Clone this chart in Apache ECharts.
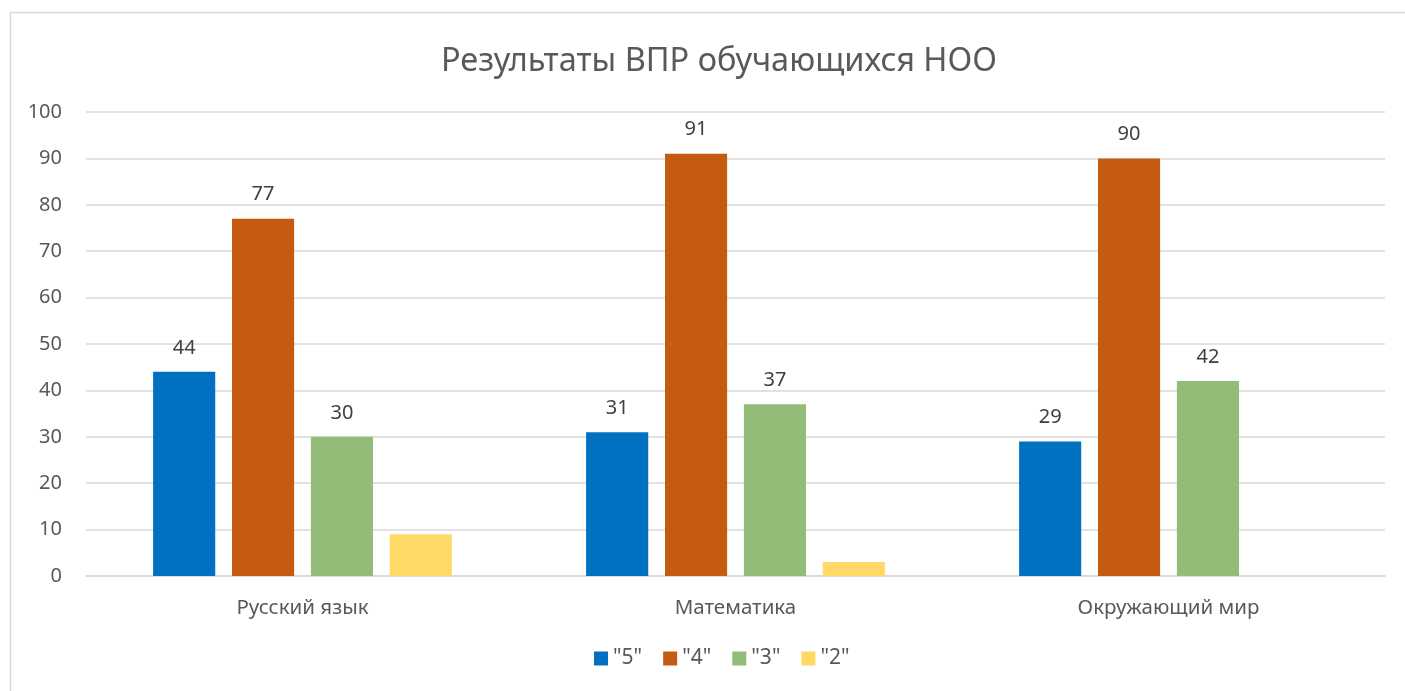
<!DOCTYPE html>
<html>
  <head>
    <meta charset="utf-8" />
    <title>ECharts</title>
    <script src="https://cdn.jsdelivr.net/npm/echarts@6.0.0/dist/echarts.min.js"></script>
  </head>
  <body style="margin:0">
    <div id="main" style="width: 1405px;height:691px;"></div>
    <script type="text/javascript">
// данные
const subjects = ['Русский язык', 'Математика', 'Окружающий мир'];
const grade5 = [44, 31, 29];
const grade4 = [77, 91, 90];
const grade3 = [30, 37, 42];
const grade2 = [9, 3, 0];
const seriesNames = ['"5"', '"4"', '"3"', '"2"'];
const colors = ['#0070C0', '#C55A11', '#93BC78', '#FFD966'];

var chartDom = document.getElementById('main');
var myChart = echarts.init(chartDom);
var option;

const font = 'Noto Sans';
const valueLabel = {
  show: true,
  position: 'top',
  distance: 14,
  color: '#404040',
  fontSize: 20,
  fontFamily: font
};

option = {
  color: colors,
  textStyle: { fontFamily: font },
  graphic: [
    {
      type: 'rect',
      shape: { x: 10.5, y: 12.5, width: 1420, height: 700 },
      style: { fill: 'none', stroke: '#D9D9D9', lineWidth: 1.5 },
      silent: true
    }
  ],
  title: {
    text: 'Результаты ВПР обучающихся НОО',
    left: 436,
    top: 40,
    textStyle: {
      color: '#595959',
      fontSize: 32.5,
      fontWeight: 'normal',
      fontFamily: font
    }
  },
  legend: {
    bottom: 17,
    left: 589,
    itemWidth: 14,
    itemHeight: 14,
    itemGap: 21,
    icon: 'rect',
    textStyle: { color: '#595959', fontSize: 21, fontFamily: font },
    data: seriesNames
  },
  grid: {
    left: 86,
    right: 20,
    top: 112,
    bottom: 115,
    containLabel: false
  },
  xAxis: {
    type: 'category',
    data: subjects,
    axisLine: { lineStyle: { color: '#D9D9D9', width: 1.5 } },
    axisTick: { show: false },
    axisLabel: { color: '#595959', fontSize: 20.5, margin: 22, fontFamily: font }
  },
  yAxis: {
    type: 'value',
    min: 0,
    max: 100,
    interval: 10,
    axisLine: { show: false },
    axisTick: { show: false },
    splitLine: { lineStyle: { color: '#D9D9D9', width: 1.5 } },
    axisLabel: { color: '#595959', fontSize: 20, margin: 24, fontFamily: font }
  },
  series: [
    { name: seriesNames[0], type: 'bar', data: grade5, barGap: '27%', barCategoryGap: '31%', label: valueLabel },
    { name: seriesNames[1], type: 'bar', data: grade4, label: valueLabel },
    { name: seriesNames[2], type: 'bar', data: grade3, label: valueLabel },
    { name: seriesNames[3], type: 'bar', data: grade2 }
  ]
};

option && myChart.setOption(option);
    </script>
  </body>
</html>
